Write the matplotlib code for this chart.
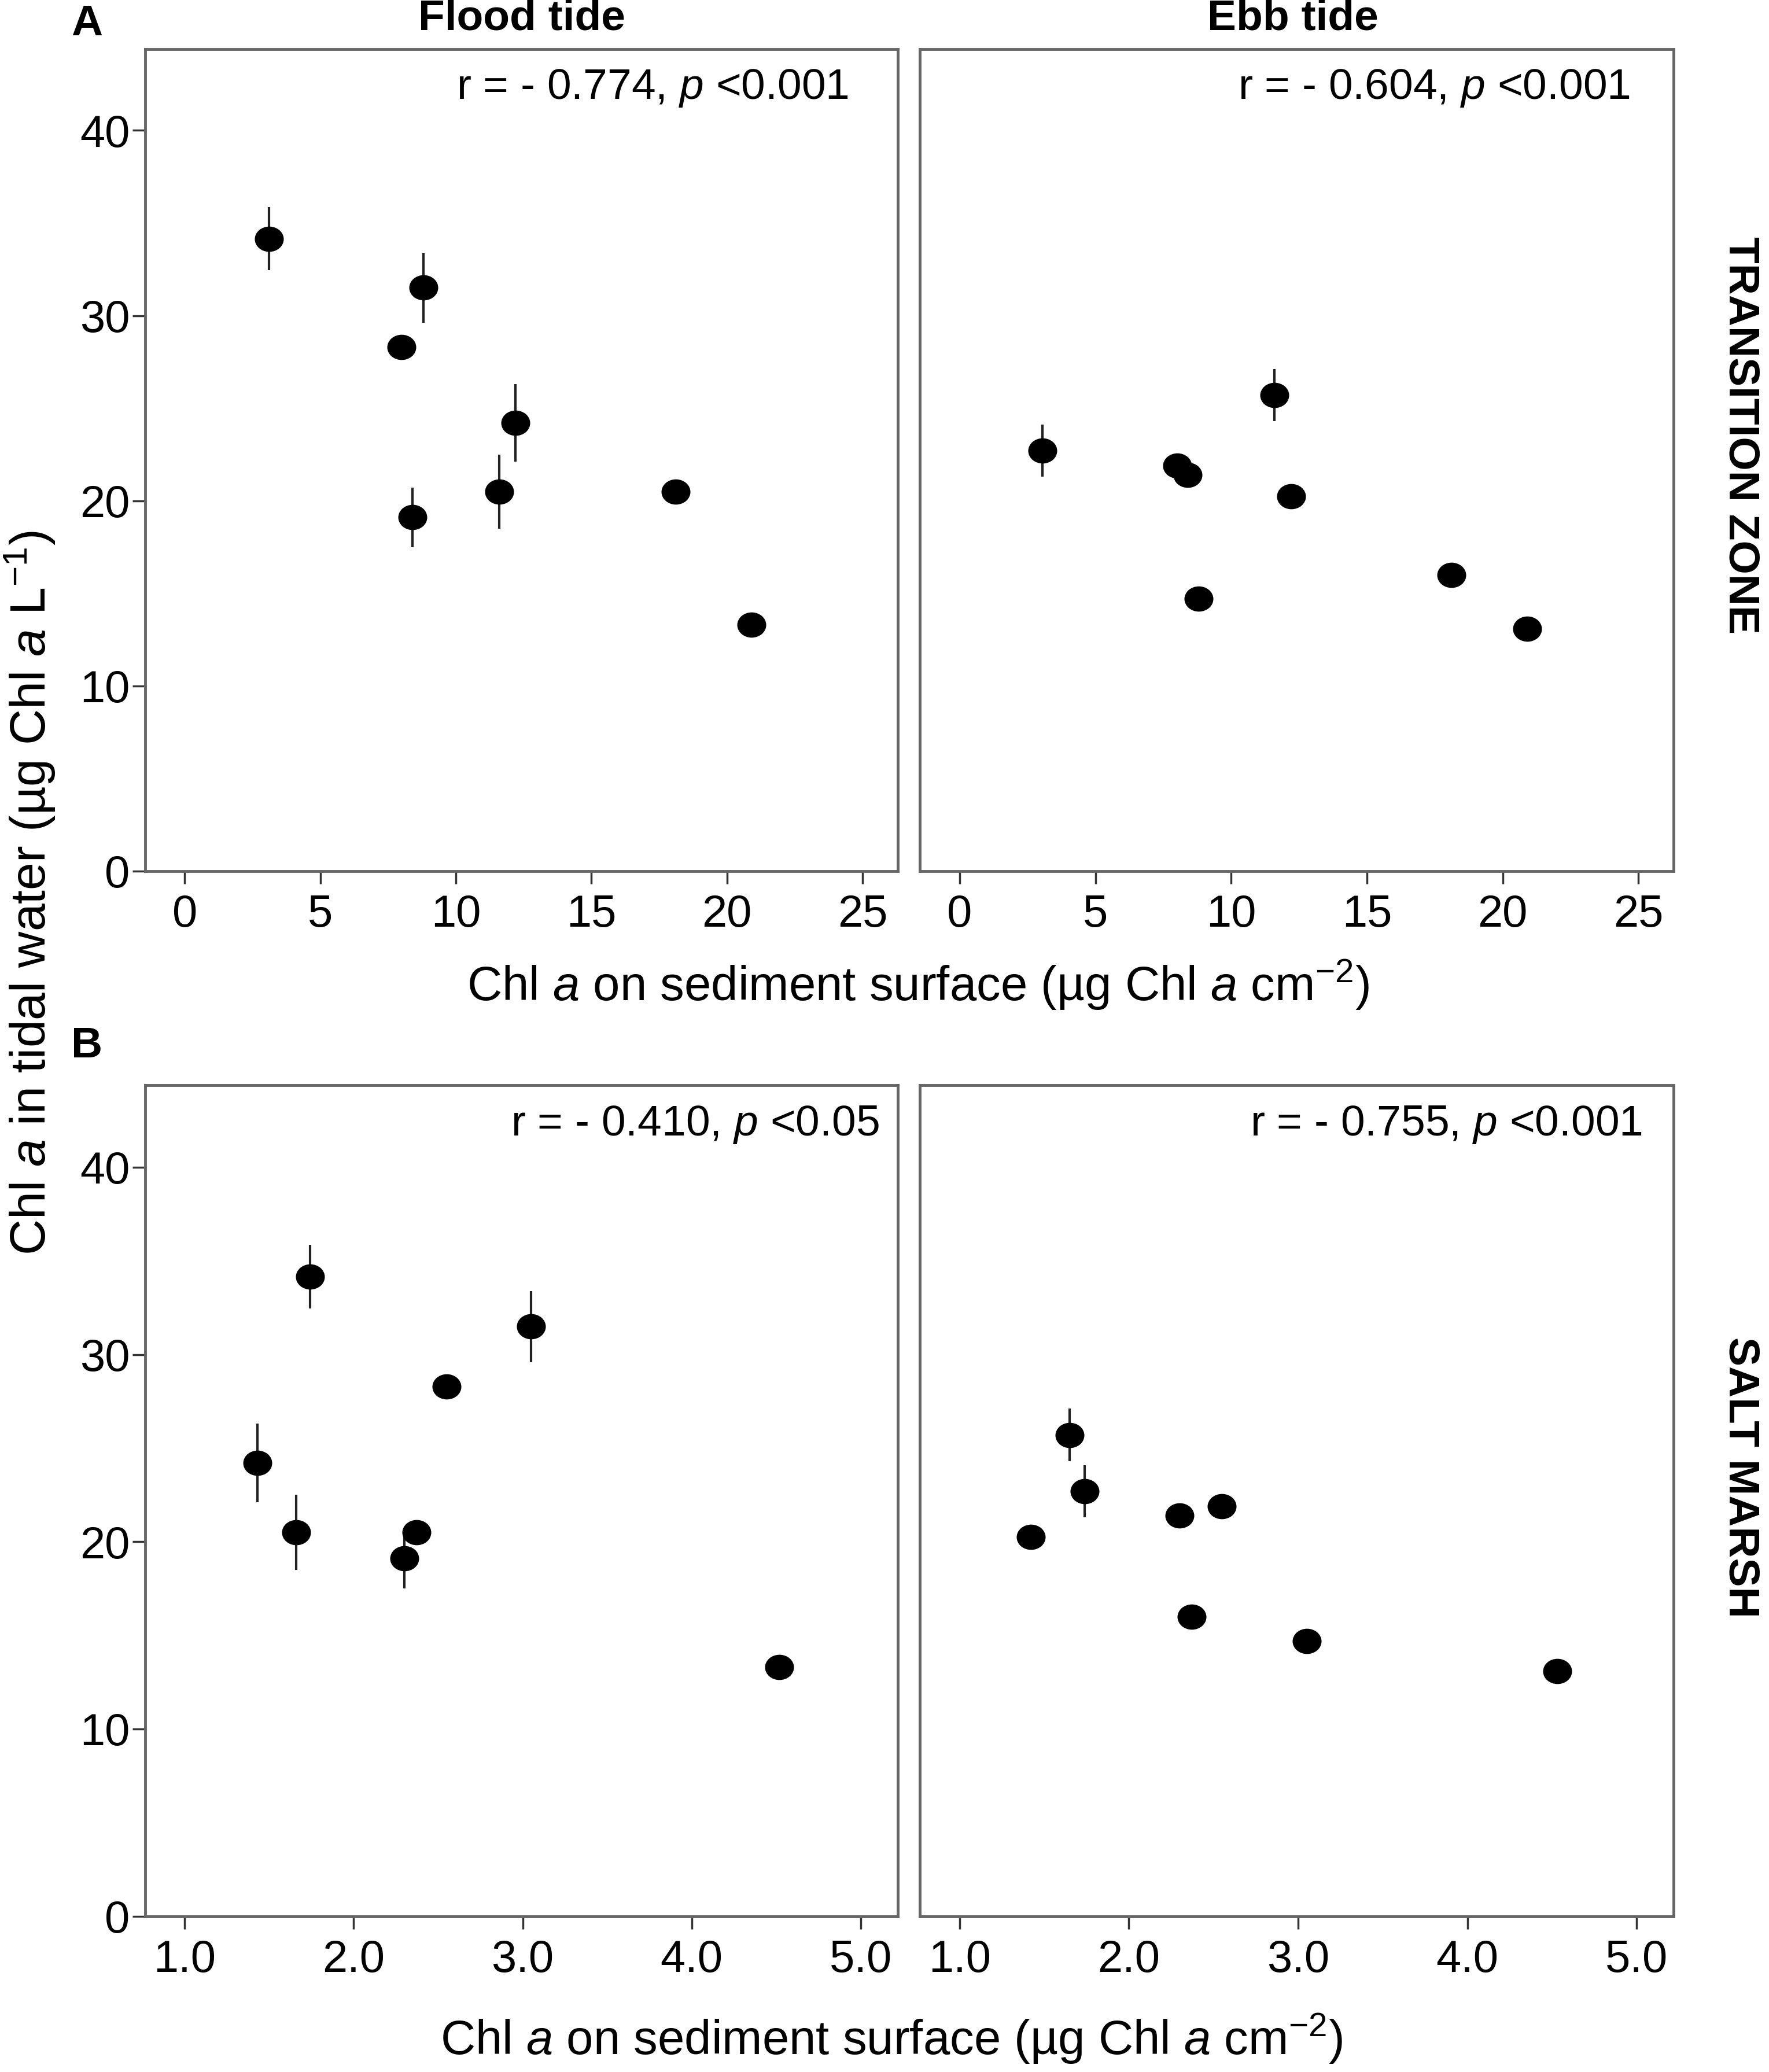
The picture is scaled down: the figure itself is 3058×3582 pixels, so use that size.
import matplotlib
matplotlib.use('Agg')
import matplotlib.pyplot as plt
from matplotlib.path import Path
from matplotlib.transforms import Affine2D

plt.rcParams['font.family'] = ['Liberation Sans', 'DejaVu Sans']
plt.rcParams['mathtext.fontset'] = 'custom'
plt.rcParams['mathtext.rm'] = 'Liberation Sans'
plt.rcParams['mathtext.it'] = 'Liberation Sans:italic'
plt.rcParams['mathtext.bf'] = 'Liberation Sans:bold'

# water chl a (same samples for both zones), flood and ebb tide
flood_water = [34.15, 31.5, 28.3, 24.2, 20.5, 19.1, 20.5, 13.3]
flood_err = [1.7, 1.9, 0.3, 2.1, 2.0, 1.6, 0.3, 0.6]
ebb_water = [22.7, 21.9, 21.4, 25.7, 20.25, 14.7, 16.0, 13.1]
ebb_err = [1.4, 0.5, 0.3, 1.4, 0.3, 0.3, 0.3, 0.3]

# sediment chl a, transition zone
tz_flood_sed = [3.1, 8.8, 8.0, 12.2, 11.6, 8.4, 18.1, 20.9]
tz_ebb_sed = [3.05, 8.0, 8.4, 11.6, 12.2, 8.8, 18.1, 20.9]

# sediment chl a, salt marsh
sm_flood_sed = [1.74, 3.05, 2.55, 1.43, 1.66, 2.30, 2.37, 4.52]
sm_ebb_sed = [1.74, 2.55, 2.30, 1.65, 1.42, 3.05, 2.37, 4.53]

stats = {
    ('A', 'flood'): r'r = - 0.774, $\it{p}$ <0.001',
    ('A', 'ebb'): r'r = - 0.604, $\it{p}$ <0.001',
    ('B', 'flood'): r'r = - 0.410, $\it{p}$ <0.05',
    ('B', 'ebb'): r'r = - 0.755, $\it{p}$ <0.001',
}
stat_x = {('A', 'flood'): 0.935, ('A', 'ebb'): 0.942, ('B', 'flood'): 0.975, ('B', 'ebb'): 0.958}

tz_ticks = [0, 5, 10, 15, 20, 25]
sm_ticks = [1.0, 2.0, 3.0, 4.0, 5.0]
y_ticks = [0, 10, 20, 30, 40]

fig = plt.figure(figsize=(30.58, 35.82), dpi=100)

frame = '#666666'
tick_fs = 56
ann_fs = 54
lab_fs = 60
bold_fs = 54

# slightly wide dot, like the original
circ = Path.unit_circle()
dot = Path(Affine2D().scale(1.15, 1.0).transform(circ.vertices), circ.codes)

def setup(ax, xticks, xlim, fmt):
    ax.set_xlim(*xlim)
    ax.set_ylim(0, 44.4)
    ax.set_xticks(xticks)
    ax.set_xticklabels([fmt % t for t in xticks])
    ax.set_yticks(y_ticks)
    for s in ax.spines.values():
        s.set_color(frame)
        s.set_linewidth(3.5)
    ax.tick_params(axis='both', labelsize=tick_fs, length=16, width=2.5, color='#333333')
    ax.tick_params(axis='x', pad=12)
    ax.tick_params(axis='y', pad=3)

panels = [
    ('A', 'flood', tz_flood_sed, flood_water, flood_err, [0.0821, 0.5796, 0.4254, 0.3968]),
    ('A', 'ebb', tz_ebb_sed, ebb_water, ebb_err, [0.5201, 0.5796, 0.4261, 0.3968]),
    ('B', 'flood', sm_flood_sed, flood_water, flood_err, [0.0821, 0.0752, 0.4254, 0.4012]),
    ('B', 'ebb', sm_ebb_sed, ebb_water, ebb_err, [0.5201, 0.0752, 0.4261, 0.4012]),
]

for zone, tide, xs, ys, errs, rect in panels:
    ax = fig.add_axes(rect)
    ax.errorbar(xs, ys, yerr=errs, fmt='none', ecolor='#222222',
                elinewidth=3, capsize=0, zorder=2)
    ax.plot(xs, ys, linestyle='none', marker=dot, color='black', markersize=35, zorder=3)
    if zone == 'A':
        setup(ax, tz_ticks, (-1.46, 26.3), '%d')
    else:
        setup(ax, sm_ticks, (0.766, 5.22), '%.1f')
    if tide == 'ebb':
        ax.set_yticklabels([])
        ax.tick_params(axis='y', length=0)
    ax.text(stat_x[(zone, tide)], 0.952, stats[(zone, tide)], transform=ax.transAxes,
            ha='right', va='center', fontsize=ann_fs)

xlab = r'Chl $\it{a}$ on sediment surface (µg Chl $\it{a}$ cm$^{-2}$)'
fig.text(0.519, 0.5245, xlab, ha='center', va='center', fontsize=lab_fs)
fig.text(0.504, 0.016, xlab, ha='center', va='center', fontsize=lab_fs)
fig.text(0.017, 0.569, r'Chl $\it{a}$ in tidal water (µg Chl $\it{a}$ L$^{-1}$)',
         ha='center', va='center', rotation=90, fontsize=lab_fs + 2)

fig.text(0.295, 0.991, 'Flood tide', ha='center', va='center', fontsize=bold_fs, fontweight='bold')
fig.text(0.731, 0.991, 'Ebb tide', ha='center', va='center', fontsize=bold_fs, fontweight='bold')
fig.text(0.049, 0.9885, 'A', ha='center', va='center', fontsize=bold_fs, fontweight='bold')
fig.text(0.049, 0.495, 'B', ha='center', va='center', fontsize=bold_fs, fontweight='bold')
fig.text(0.984, 0.79, 'TRANSITION ZONE', ha='center', va='center', rotation=-90,
         fontsize=bold_fs, fontweight='bold')
fig.text(0.984, 0.287, 'SALT MARSH', ha='center', va='center', rotation=-90,
         fontsize=bold_fs, fontweight='bold')

fig.savefig('out.png', dpi=100, facecolor='white')
